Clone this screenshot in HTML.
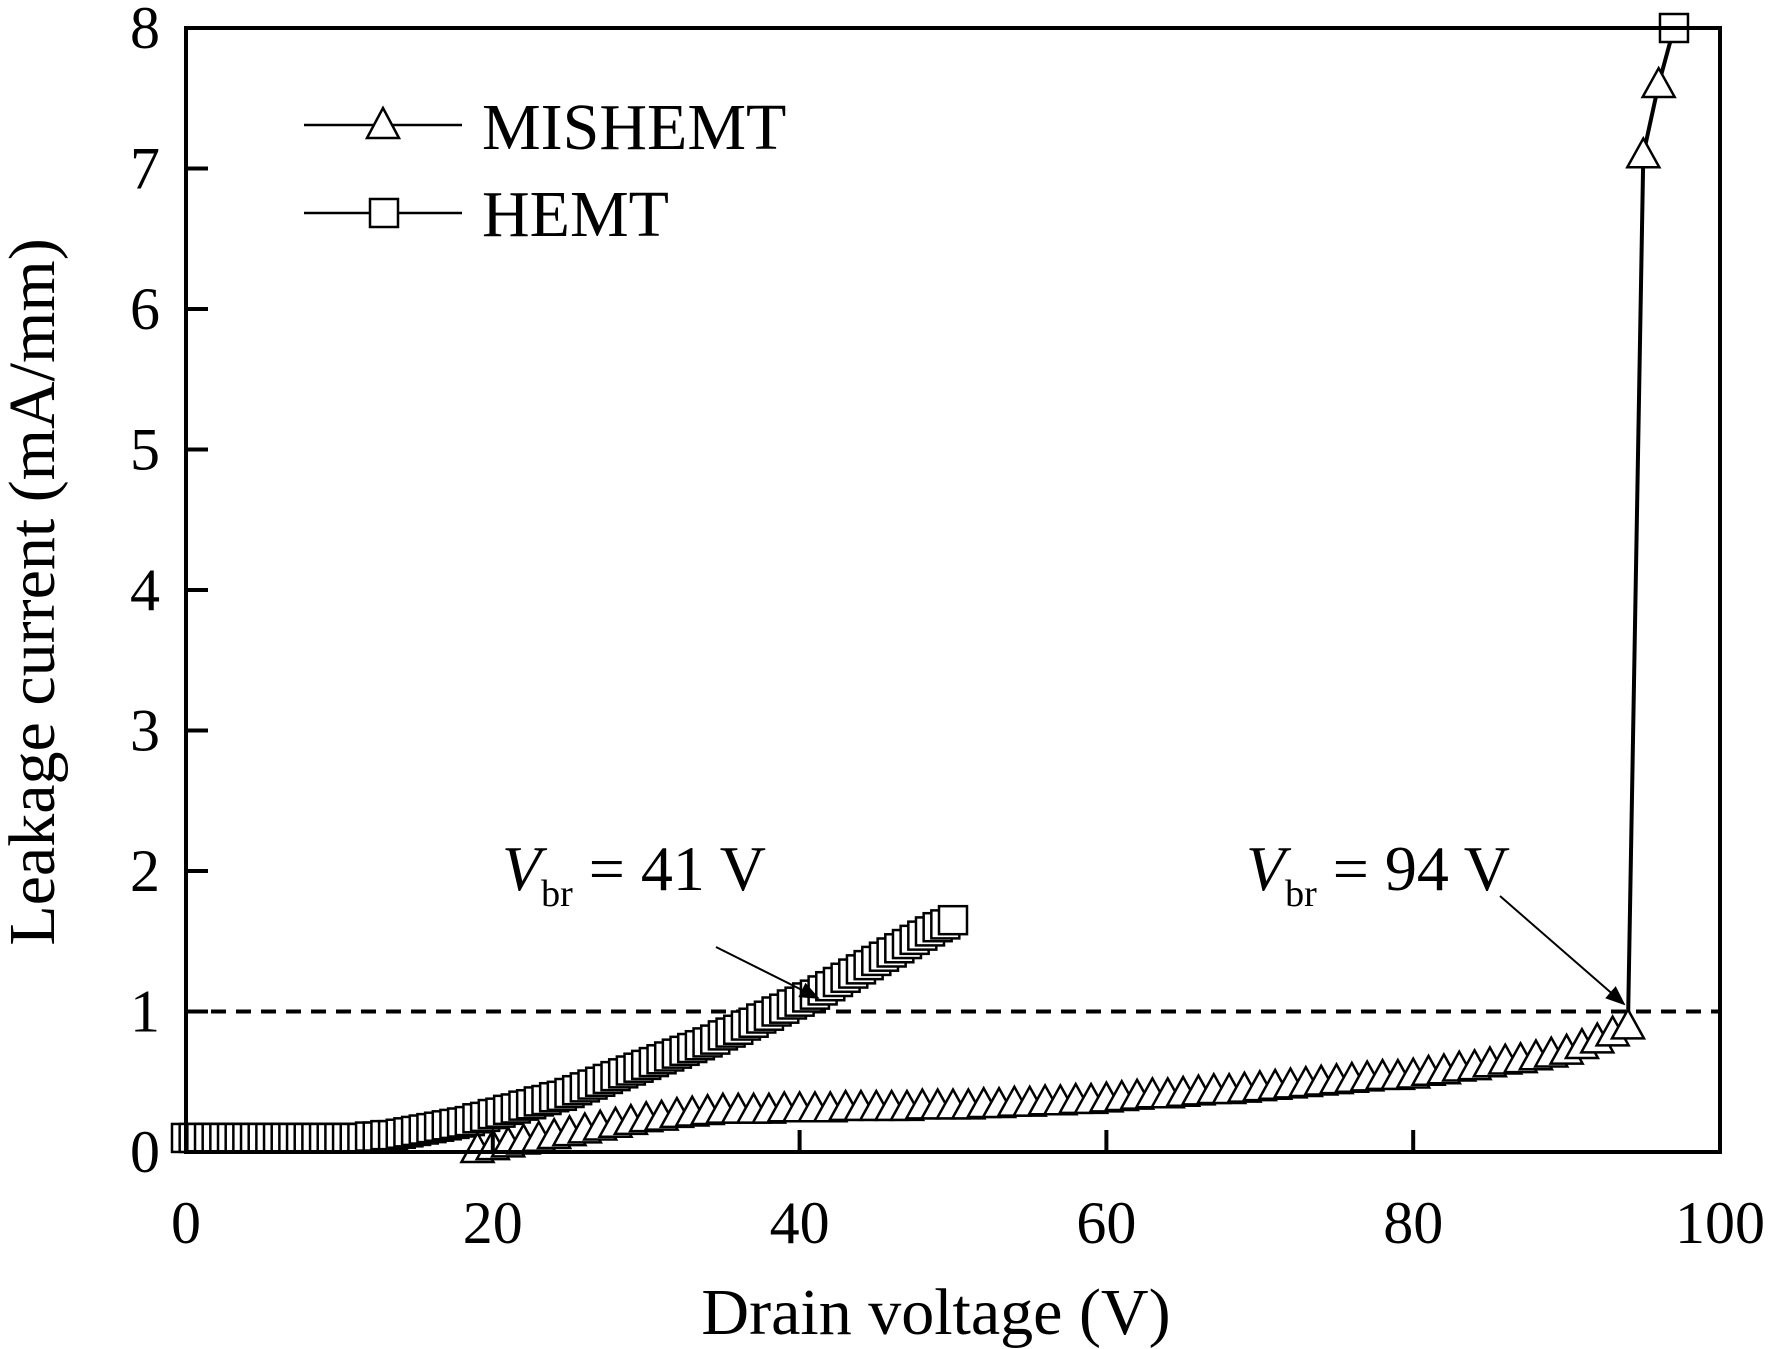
<!DOCTYPE html>
<html><head><meta charset="utf-8"><style>
html,body{margin:0;padding:0;background:#fff;}
svg{display:block;font-family:"Liberation Serif",serif;}
</style></head><body>
<svg id="chart" width="1768" height="1349" viewBox="0 0 1768 1349">
<g id="marks"></g>
<g id="axes"></g>
</svg>
<script>
const xTicks=[0,20,40,60,80,100];
const yTicks=[0,1,2,3,4,5,6,7,8];
const hemtV=[0,0.5,1,1.5,2,2.5,3,3.5,4,4.5,5,5.5,6,6.5,7,7.5,8,8.5,9,9.5,10,10.5,11,11.5,12,12.5,13,13.5,14,14.5,15,15.5,16,16.5,17,17.5,18,18.5,19,19.5,20,20.5,21,21.5,22,22.5,23,23.5,24,24.5,25,25.5,26,26.5,27,27.5,28,28.5,29,29.5,30,30.5,31,31.5,32,32.5,33,33.5,34,34.5,35,35.5,36,36.5,37,37.5,38,38.5,39,39.5,40,40.5,41,41.5,42,42.5,43,43.5,44,44.5,45,45.5,46,46.5,47,47.5,48,48.5,49,49.5,50];
const hemtI=[0.1,0.1,0.1,0.1,0.1,0.1,0.1,0.1,0.1,0.1,0.1,0.1,0.1,0.1,0.1,0.1,0.1,0.1,0.1,0.1,0.1,0.1,0.1,0.1,0.11,0.11,0.12,0.12,0.13,0.14,0.15,0.16,0.17,0.18,0.19,0.2,0.21,0.22,0.24,0.25,0.27,0.28,0.3,0.31,0.33,0.34,0.36,0.37,0.39,0.4,0.42,0.44,0.46,0.48,0.5,0.52,0.54,0.56,0.58,0.6,0.62,0.64,0.66,0.68,0.7,0.72,0.74,0.76,0.78,0.8,0.83,0.85,0.87,0.9,0.92,0.95,0.97,1.0,1.02,1.05,1.07,1.1,1.12,1.15,1.18,1.21,1.24,1.27,1.3,1.33,1.36,1.39,1.42,1.45,1.48,1.51,1.54,1.57,1.6,1.62,1.65];
const misV=[19,20,21,22,23,24,25,26,27,28,29,30,31,32,33,34,35,36,37,38,39,40,41,42,43,44,45,46,47,48,49,50,51,52,53,54,55,56,57,58,59,60,61,62,63,64,65,66,67,68,69,70,71,72,73,74,75,76,77,78,79,80,81,82,83,84,85,86,87,88,89,90,91,92,93,94,95,96];
const misI=[0.02,0.04,0.06,0.08,0.1,0.12,0.14,0.16,0.18,0.2,0.22,0.24,0.25,0.27,0.28,0.29,0.3,0.3,0.3,0.3,0.31,0.31,0.31,0.31,0.32,0.32,0.32,0.32,0.32,0.33,0.33,0.33,0.33,0.34,0.34,0.35,0.35,0.36,0.36,0.37,0.37,0.38,0.39,0.4,0.41,0.41,0.42,0.43,0.44,0.44,0.45,0.46,0.47,0.48,0.49,0.5,0.51,0.52,0.53,0.54,0.54,0.55,0.57,0.58,0.6,0.61,0.63,0.65,0.66,0.68,0.7,0.72,0.76,0.8,0.85,0.9,7.1,7.6];
const x0=186,x1=1720,yT=28,yB=1152;
const X=v=>x0+(v/100)*(x1-x0);
const Y=v=>yB-(v/8)*(yB-yT);
const NS='http://www.w3.org/2000/svg';
function mk(tag,attrs,parent){const e=document.createElementNS(NS,tag);for(const k in attrs)e.setAttribute(k,attrs[k]);parent.appendChild(e);return e;}
const marks=document.getElementById('marks'),axes=document.getElementById('axes');
let dl=mk('line',{x1:x0,x2:x1,y1:Y(1),y2:Y(1),stroke:'#000','stroke-width':4,'stroke-dasharray':'15 10'},marks);


let hp=mk('polyline',{points:hemtV.map((v,i)=>X(v)+','+Y(hemtI[i])).join(' '),fill:'none',stroke:'#000','stroke-width':5},marks);


hemtV.forEach((v,i)=>{const s=28;let r=mk('rect',{x:X(v)-s/2,y:Y(hemtI[i])-s/2,width:s,height:s,fill:'#fff',stroke:'#000','stroke-width':2.5},marks);

});
let mp=mk('polyline',{points:misV.map((v,i)=>X(v)+','+Y(misI[i])).join(' ')+' '+X(97)+','+Y(8),fill:'none',stroke:'#000','stroke-width':4},marks);


misV.forEach((v,i)=>{const cx=X(v),cy=Y(misI[i]),h=16;let t=mk('polygon',{points:`${cx},${cy-h} ${cx-h},${cy+h*0.8} ${cx+h},${cy+h*0.8}`,fill:'#fff',stroke:'#000','stroke-width':2.5},marks);

});
let tr=mk('rect',{x:X(97)-14,y:Y(8)-14,width:28,height:28,fill:'#fff',stroke:'#000','stroke-width':2.5},marks);


let fr=mk('rect',{x:x0,y:yT,width:x1-x0,height:yB-yT,fill:'none',stroke:'#000','stroke-width':4},axes);


xTicks.forEach(t=>{let l=mk('line',{x1:X(t),x2:X(t),y1:yB,y2:yB-22,stroke:'#000','stroke-width':4},axes);


let tx=mk('text',{x:X(t),y:1243,'font-size':60,'text-anchor':'middle'},axes);tx.textContent=t;

});
yTicks.forEach(t=>{let l=mk('line',{x1:x0,x2:x0+22,y1:Y(t),y2:Y(t),stroke:'#000','stroke-width':4},axes);


let tx=mk('text',{x:160,y:Y(t)+20,'font-size':60,'text-anchor':'end'},axes);tx.textContent=t;

});
</script>
<svg style="position:absolute;left:0;top:0" width="1768" height="1349">
<defs><marker id="ah" markerWidth="10" markerHeight="8" refX="9" refY="4" orient="auto"><path d="M0,0 L10,4 L0,8 z" fill="#000"/></marker></defs>
<g font-family="Liberation Serif, serif">
<text x="936" y="1334" font-size="66" text-anchor="middle">Drain voltage (V)</text>
<text transform="translate(54,592) rotate(-90)" font-size="66" text-anchor="middle">Leakage current (mA/mm)</text>
<g>
<line x1="304" x2="462" y1="125" y2="125" stroke="#000" stroke-width="2.5"/>
<polygon points="383,108 367,138 399,138" fill="#fff" stroke="#000" stroke-width="2.5"/>
<text x="482" y="149" font-size="66">MISHEMT</text>
<line x1="304" x2="462" y1="213" y2="213" stroke="#000" stroke-width="2.5"/>
<rect x="370" y="199" width="28" height="28" fill="#fff" stroke="#000" stroke-width="2.5"/>
<text x="482" y="236" font-size="66">HEMT</text>
</g>
<text x="502" y="890" font-size="64"><tspan font-style="italic">V</tspan><tspan font-size="38" dy="16">br</tspan><tspan dy="-16"> = 41 V</tspan></text>
<line x1="716" y1="947" x2="818" y2="998" stroke="#000" stroke-width="2" marker-end="url(#ah)"/>
<text x="1246" y="890" font-size="64"><tspan font-style="italic">V</tspan><tspan font-size="38" dy="16">br</tspan><tspan dy="-16"> = 94 V</tspan></text>
<line x1="1500" y1="896" x2="1624" y2="1004" stroke="#000" stroke-width="2" marker-end="url(#ah)"/>
</g>
</svg>
</body></html>
